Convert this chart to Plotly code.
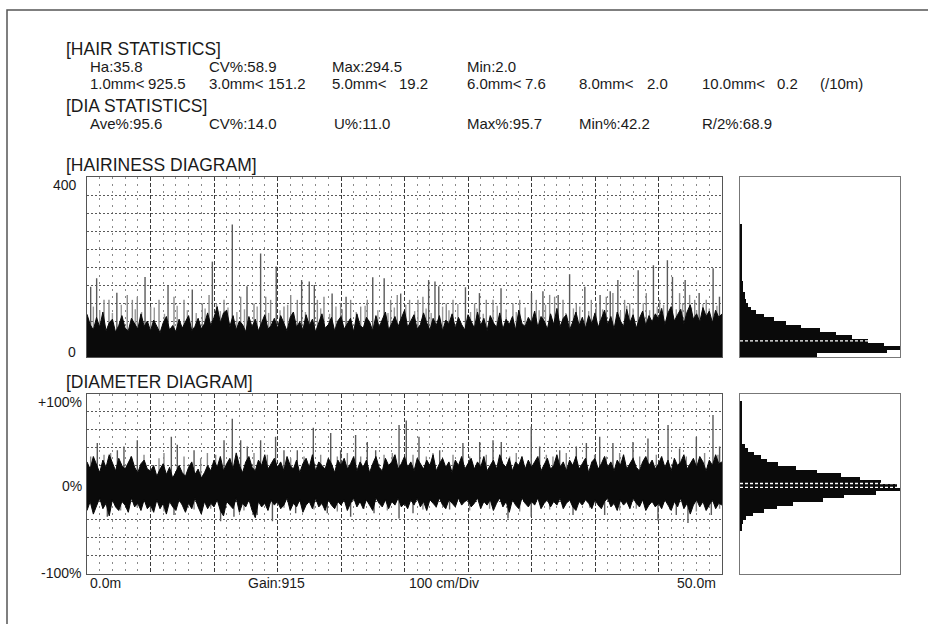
import plotly.graph_objects as go

# ---------------- data ----------------
hair_stats_row1 = [("Ha:35.8", 88), ("CV%:58.9", 207), ("Max:294.5", 330), ("Min:2.0", 465)]
hair_len_labels = ["1.0mm<", "3.0mm<", "5.0mm<", "6.0mm<", "8.0mm<", "10.0mm<"]
hair_len_values = ["925.5", "151.2", "19.2", "7.6", "2.0", "0.2"]
dia_stats = ["Ave%:95.6", "CV%:14.0", "U%:11.0", "Max%:95.7", "Min%:42.2", "R/2%:68.9"]
hair_mean = 35.8
dia_ave_pct = 95.6

# hairiness dense band top (every 0.25 m, 0..50 m)
hair_band = [95, 72, 60, 88, 66, 100, 58, 76, 84, 55, 70, 92, 64, 58, 86, 74, 62, 96, 68, 80,
             58, 82, 66, 54, 76, 90, 60, 70, 56, 84, 64, 78, 92, 58, 68, 86, 62, 74, 98, 70,
             88, 112, 76, 98, 104, 68, 92, 60, 80, 72, 56, 90, 66, 84, 58, 76, 94, 62, 70, 86,
             64, 92, 74, 58, 88, 100, 66, 78, 60, 94, 70, 84, 56, 76, 96, 64, 72, 88, 58, 80,
             90, 62, 74, 86, 56, 96, 70, 64, 88, 78, 58, 92, 66, 82, 100, 60, 76, 90, 68, 84,
             104, 66, 80, 94, 62, 72, 98, 76, 60, 86, 70, 92, 58, 82, 74, 96, 64, 88, 72, 60,
             94, 78, 64, 100, 70, 86, 58, 92, 76, 66, 98, 62, 84, 72, 90, 60, 104, 74, 68, 88,
             76, 102, 66, 90, 80, 62, 96, 72, 108, 68, 86, 94, 60, 78, 100, 70, 88, 64, 92, 74,
             98, 66, 84, 104, 72, 90, 62, 100, 80, 68, 106, 76, 94, 64, 86, 102, 70, 92, 78, 96,
             84, 108, 72, 98, 112, 80, 94, 106, 74, 100, 116, 84, 96, 78, 110, 90, 102, 76, 104, 88,
             96]
hair_band_step = 0.25

# tall hairiness spikes (position m, value)
hair_peak_pos = [0.29, 0.76, 2.35, 4.57, 6.38, 8.29, 9.87, 11.44, 12.6, 13.67, 14.9, 16.9, 17.5, 17.9,
                 19.3, 20.4, 22.5, 23.4, 24.7, 26.9, 27.4, 27.7, 29.8, 30.9, 32.6, 35.0, 35.9, 37.1,
                 38.0, 39.2, 40.4, 41.2, 41.8, 43.4, 44.6, 45.7, 46.1, 47.1, 48.2, 49.3, 49.8]
hair_peak_val = [156, 175, 143, 178, 160, 150, 212, 294.5, 157, 230, 201, 171, 168, 160,
                 141, 134, 177, 175, 141, 171, 168, 157, 155, 142, 153, 142, 146, 138,
                 184, 156, 138, 146, 171, 193, 204, 215, 178, 171, 142, 197, 134]
# medium hairiness spikes
hair_mid_pos = [1.34, 1.73, 3.17, 3.57, 3.96, 5.01, 5.67, 6.85, 7.64, 9.08, 9.61, 10.79, 12.1, 13.15,
                14.07, 14.46, 15.51, 16.04, 16.56, 18.14, 18.66, 19.97, 20.76, 21.55, 22.07, 23.91,
                24.43, 25.4, 26.06, 26.45, 28.29, 28.82, 30.52, 31.44, 31.97, 33.54, 34.07, 35.38,
                36.43, 36.82, 37.48, 38.53, 39.71, 40.89, 41.41, 42.33, 42.73, 44.04, 45.09, 46.66,
                47.45, 47.85, 48.76]
hair_mid_val = [127, 127, 138, 127, 134, 112, 127, 134, 127, 119, 138, 127, 134, 119,
                134, 127, 112, 138, 127, 127, 134, 119, 127, 112, 127, 127,
                138, 127, 127, 134, 119, 127, 119, 127, 127, 119, 127, 127,
                138, 134, 127, 119, 127, 134, 142, 127, 119, 142, 127, 142,
                138, 127, 127]
# lower strokes just above the dense band
hair_low_pos = [0.5, 1.0, 2.0, 2.7, 3.8, 4.3, 5.3, 6.1, 7.1, 7.9, 8.6, 9.3, 10.2, 10.5, 11.1, 11.8,
                12.4, 13.4, 14.3, 15.2, 15.8, 17.2, 18.4, 19.1, 19.6, 20.1, 21.2, 21.9, 22.9, 23.7,
                24.2, 25.1, 25.8, 26.7, 27.1, 28.0, 28.5, 29.2, 30.2, 30.7, 31.2, 32.3, 33.0, 33.8,
                34.5, 35.6, 36.1, 37.7, 38.3, 38.8, 39.5, 40.1, 40.6, 42.0, 42.5, 43.0, 43.8, 44.3,
                44.9, 45.4, 46.4, 46.9, 47.6, 48.0, 48.5, 49.0, 49.6]
hair_low_val = [112, 104, 98, 116, 106, 100, 110, 96, 114, 104, 98, 108, 118, 102, 110, 100,
                106, 112, 98, 104, 116, 100, 108, 96, 112, 106, 100, 114, 104, 98,
                110, 116, 102, 108, 98, 112, 104, 118, 100, 108, 96, 114, 106, 100,
                110, 104, 116, 98, 108, 112, 102, 118, 106, 100, 114, 108, 120, 104,
                112, 116, 106, 120, 110, 104, 118, 108, 114]

# diameter dense core (every 0.25 m)
dia_core_hi = [24, 16, 30, 20, 12, 26, 18, 32, 22, 14, 28, 20, 16, 24, 30, 18, 12, 22, 26, 16,
               14, 20, 8, 16, 22, 10, 18, 6, 14, 20, 12, 8, 18, 24, 10, 16, 6, 12, 20, 14,
               26, 18, 30, 14, 22, 28, 16, 34, 20, 12, 24, 30, 18, 14, 26, 20, 32, 16, 22, 28,
               18, 24, 14, 30, 20, 16, 26, 12, 22, 28, 18, 32, 14, 24, 20, 16, 28, 22, 12, 26,
               20, 28, 16, 22, 30, 14, 24, 18, 26, 12, 22, 30, 18, 14, 28, 20, 24, 32, 16, 22,
               30, 18, 24, 14, 28, 22, 16, 26, 20, 32, 14, 22, 28, 18, 24, 12, 26, 20, 30, 16,
               22, 28, 16, 24, 18, 30, 14, 20, 26, 16, 32, 22, 18, 28, 14, 24, 20, 30, 16, 26,
               18, 24, 30, 14, 22, 28, 16, 20, 32, 18, 24, 14, 26, 20, 30, 16, 22, 28, 12, 24,
               28, 16, 22, 30, 18, 24, 14, 26, 20, 32, 16, 22, 28, 18, 14, 24, 30, 20, 26, 16,
               22, 30, 18, 26, 14, 28, 20, 24, 32, 16, 22, 28, 18, 30, 24, 14, 26, 20, 32, 22,
               24]
dia_core_lo = [-30, -20, -34, -24, -16, -28, -22, -36, -18, -26, -30, -20, -24, -32, -16, -26, -22, -30, -18, -28,
               -24, -32, -18, -28, -22, -34, -20, -26, -30, -18, -24, -32, -22, -28, -16, -26, -34, -20, -28, -22,
               -26, -18, -30, -36, -20, -24, -28, -16, -32, -22, -26, -18, -30, -38, -20, -26, -22, -30, -18, -24,
               -20, -28, -24, -16, -30, -22, -26, -18, -32, -24, -20, -28, -16, -26, -22, -30, -18, -24, -28, -20,
               -24, -18, -30, -22, -16, -26, -20, -28, -18, -24, -30, -16, -22, -26, -18, -28, -20, -24, -16, -26,
               -22, -28, -18, -24, -16, -26, -20, -30, -18, -22, -26, -16, -24, -28, -18, -22, -26, -16, -24, -20,
               -18, -26, -22, -16, -28, -20, -24, -18, -30, -22, -16, -26, -20, -32, -18, -24, -28, -16, -22, -26,
               -20, -24, -16, -28, -22, -18, -26, -20, -24, -16, -28, -22, -18, -26, -30, -20, -24, -18, -22, -28,
               -18, -24, -28, -20, -16, -26, -22, -30, -18, -24, -20, -28, -16, -22, -26, -18, -30, -24, -20, -26,
               -22, -28, -18, -24, -30, -20, -26, -16, -28, -22, -34, -24, -18, -26, -20, -30, -24, -18, -28, -22,
               -24]
dia_core_step = 0.25

dia_up_pos = [0.81, 2.39, 2.91, 3.96, 6.64, 7.11, 8.43, 10.79, 11.44, 12.1, 12.62, 13.67, 14.85, 15.51, 16.56,
              17.82, 19.19, 19.97, 21.15, 22.07, 22.73, 24.57, 25.14, 26.14, 27.77, 29.6, 30.92, 31.97, 32.62,
              34.98, 35.64, 37.22, 38.53, 39.32, 40.37, 41.41, 42.99, 44.17, 45.75, 46.66, 47.98, 49.29, 49.81]
dia_up_val = [45, 37, 41, 48, 52, 43, 37, 48, 72, 48, 41, 48, 52, 37, 37,
              62, 56, 37, 54, 46, 37, 65, 70, 52, 37, 45, 46, 48, 46,
              63, 41, 37, 41, 45, 52, 45, 46, 50, 65, 39, 52, 76, 41]
dia_mid_up_pos = [0.29, 1.34, 1.86, 3.44, 4.49, 5.67, 6.06, 7.64, 8.95, 9.48, 10.13, 11.84, 13.15, 14.2, 16.04,
                  17.09, 18.4, 19.71, 20.5, 21.55, 23.39, 24.04, 25.67, 26.72, 27.24, 28.82, 30.13, 31.44,
                  33.28, 33.8, 36.17, 36.69, 37.74, 39.97, 40.89, 41.94, 43.52, 44.83, 47.19, 48.63, 49.68]
dia_mid_up_val = [30, 32, 34, 30, 32, 28, 34, 30, 28, 34, 32, 30, 34, 32, 28,
                  30, 32, 30, 34, 30, 32, 34, 32, 30, 34, 32, 30, 32,
                  30, 34, 32, 30, 34, 32, 30, 34, 30, 32, 30, 34, 32]
dia_down_pos = [1.6, 5.01, 6.85, 10.52, 11.57, 13.4, 14.6, 16.43, 18.92, 20.76, 22.6, 24.57, 25.67, 28.55,
                33.15, 34.98, 38.27, 40.76, 44.96, 46.4, 47.32, 49.16]
dia_down_val = [-37, -31, -35, -42, -37, -35, -42, -33, -33, -37, -33, -39, -33, -29,
                -39, -37, -35, -35, -41, -35, -44, -35]
dia_mid_down_pos = [0.55, 2.65, 3.96, 6.06, 8.43, 9.74, 12.36, 15.51, 17.87, 19.71, 21.81, 23.65,
                    26.45, 27.5, 30.13, 31.7, 34.07, 36.43, 39.58, 41.94, 43.25, 45.88, 47.98, 49.81]
dia_mid_down_val = [-28, -30, -27, -31, -29, -28, -30, -27, -29, -31, -28, -30,
                    -29, -27, -30, -28, -31, -29, -27, -30, -28, -29, -31, -28]

# histograms (relative bar length %)
hair_hist_center = [4, 12, 20, 28, 36, 44, 52, 60, 68, 76, 84, 92, 100, 108, 116, 124, 132, 140, 148, 156,
                    164, 172, 180, 188, 196, 204, 212, 220, 228, 236, 244, 252, 260, 268, 276, 284, 292]
hair_hist_len = [48, 92, 100, 90, 80, 70, 60, 50, 38, 29, 21, 15, 10, 7, 5, 4, 3, 3, 2, 2,
                 2, 1.5, 1.5, 1.5, 1, 1, 1, 1, 1, 1, 1, 1, 0.8, 0.8, 0.8, 0.8, 0.8]
dia_hist_center = [90, 86, 82, 78, 74, 70, 66, 62, 58, 54, 50, 46, 42, 38, 34, 30, 26, 22, 18, 14, 10, 6, 2,
                   -2, -6, -10, -14, -18, -22, -26, -30, -34, -38, -42, -46, -50]
dia_hist_len = [0.8, 0.8, 0.8, 0.8, 0.8, 0.8, 0.8, 0.8, 1, 1, 1, 1, 3, 5, 9, 13, 17, 24, 35, 48, 63, 75, 88,
                98, 100, 85, 65, 52, 33, 23, 15, 8, 4, 2, 1, 0.8]

# ---------------- layout helpers ----------------
W, H = 928, 624
def px(x): return x / W
def py(y): return 1 - y / H

FONT = "Liberation Sans, Arial, sans-serif"
TXT = "#1a1a1a"

fig = go.Figure()

def spikes(pos, val, base=0):
    xs, ys = [], []
    for p, v in zip(pos, val):
        xs += [p, p, None]
        ys += [base, v, None]
    return xs, ys

# hairiness
for pos, val, col in [(hair_low_pos, hair_low_val, "#9a9a9a"),
                      (hair_mid_pos, hair_mid_val, "#8a8a8a"),
                      (hair_peak_pos, hair_peak_val, "#5a5a5a")]:
    xs, ys = spikes(pos, val)
    fig.add_trace(go.Scatter(x=xs, y=ys, mode="lines", line=dict(color=col, width=1.4),
                             xaxis="x", yaxis="y", hoverinfo="skip"))
band_x = [i * hair_band_step for i in range(len(hair_band))]
fig.add_trace(go.Scatter(x=band_x, y=hair_band, mode="lines", fill="tozeroy",
                         fillcolor="#0a0a0a", line=dict(color="#0a0a0a", width=1),
                         xaxis="x", yaxis="y", hoverinfo="skip"))

# diameter
for pos, val, col in [(dia_mid_up_pos, dia_mid_up_val, "#8a8a8a"),
                      (dia_mid_down_pos, dia_mid_down_val, "#8a8a8a"),
                      (dia_up_pos, dia_up_val, "#5a5a5a"),
                      (dia_down_pos, dia_down_val, "#5a5a5a")]:
    xs, ys = spikes(pos, val)
    fig.add_trace(go.Scatter(x=xs, y=ys, mode="lines", line=dict(color=col, width=1.4),
                             xaxis="x2", yaxis="y2", hoverinfo="skip"))
core_x = [i * dia_core_step for i in range(len(dia_core_hi))]
fig.add_trace(go.Scatter(x=core_x, y=dia_core_lo, mode="lines", line=dict(color="#0a0a0a", width=1),
                         xaxis="x2", yaxis="y2", hoverinfo="skip"))
fig.add_trace(go.Scatter(x=core_x, y=dia_core_hi, mode="lines", fill="tonexty", fillcolor="#0a0a0a",
                         line=dict(color="#0a0a0a", width=1), xaxis="x2", yaxis="y2", hoverinfo="skip"))

# histograms
fig.add_trace(go.Bar(x=hair_hist_len, y=hair_hist_center, orientation="h", width=8,
                     marker=dict(color="#0a0a0a", line=dict(width=0)), xaxis="x3", yaxis="y3", hoverinfo="skip"))
fig.add_trace(go.Bar(x=dia_hist_len, y=dia_hist_center, orientation="h", width=4,
                     marker=dict(color="#0a0a0a", line=dict(width=0)), xaxis="x4", yaxis="y4", hoverinfo="skip"))

GRID_H = dict(showgrid=True, gridcolor="#5a5a5a", griddash="2px,2px", gridwidth=1)
def main_x(anchor):
    return dict(domain=[px(87), px(722)], range=[0, 50], anchor=anchor, tick0=0, dtick=5,
                showgrid=True, gridcolor="#3a3a3a", griddash="4px,2px", gridwidth=1,
                minor=dict(dtick=1, tick0=0, showgrid=True, gridcolor="#8a8a8a", griddash="2px,5px", gridwidth=1),
                showticklabels=False, ticks="", zeroline=False,
                showline=True, mirror=True, linecolor="#555", linewidth=1, fixedrange=True)

def hist_x(anchor):
    return dict(domain=[px(740), px(900)], range=[0, 100], anchor=anchor, showgrid=False,
                showticklabels=False, ticks="", zeroline=False,
                showline=True, mirror=True, linecolor="#777", linewidth=1)

fig.update_layout(
    width=W, height=H, margin=dict(l=0, r=0, t=0, b=0),
    paper_bgcolor="white", plot_bgcolor="white", showlegend=False, bargap=0,
    xaxis=main_x("y"),
    yaxis=dict(domain=[py(357), py(177)], range=[0, 400], anchor="x", tick0=0, dtick=40,
               showticklabels=False, ticks="", zeroline=False, showline=True, mirror=True,
               linecolor="#555", linewidth=1, **GRID_H),
    xaxis2=main_x("y2"),
    yaxis2=dict(domain=[py(573.5), py(393.5)], range=[-100, 100], anchor="x2", tick0=0, dtick=20,
                showticklabels=False, ticks="", zeroline=False, showline=True, mirror=True,
                linecolor="#555", linewidth=1, **GRID_H),
    xaxis3=hist_x("y3"),
    yaxis3=dict(domain=[py(357), py(177)], range=[0, 400], anchor="x3", showgrid=False,
                showticklabels=False, ticks="", zeroline=False, showline=True, mirror=True,
                linecolor="#777", linewidth=1),
    xaxis4=hist_x("y4"),
    yaxis4=dict(domain=[py(573.5), py(393.5)], range=[-100, 100], anchor="x4", showgrid=False,
                showticklabels=False, ticks="", zeroline=False, showline=True, mirror=True,
                linecolor="#777", linewidth=1),
)

# mean dashed lines in histograms
fig.add_shape(type="line", xref="x3", yref="y3", x0=0, x1=100, y0=hair_mean, y1=hair_mean,
              line=dict(color="white", width=1.3, dash="3px,2px"))
for v in [0, dia_ave_pct - 100]:
    fig.add_shape(type="line", xref="x4", yref="y4", x0=0, x1=100, y0=v, y1=v,
                  line=dict(color="white", width=1.3, dash="3px,2px"))

# outer frame
fig.add_shape(type="rect", xref="paper", yref="paper", x0=px(7), x1=px(940), y0=py(640), y1=py(10),
              line=dict(color="#555", width=1.5), layer="below")

def txt(s, x, y, size=15, anchor="left"):
    fig.add_annotation(text=s, x=px(x), y=py(y), xref="paper", yref="paper", showarrow=False,
                       xanchor=anchor, yanchor="middle", font=dict(family=FONT, size=size, color=TXT))

HEAD = 17.5
txt("[HAIR STATISTICS]", 64, 49, HEAD)
for s, x in hair_stats_row1:
    txt(s, x, 67)
lab_x = [88, 207, 330, 465, 577, 700]
val_r = [188, 308, 430, 548, 670, 800]
for s, x in zip(hair_len_labels, lab_x):
    txt(s, x, 84)
for s, x in zip(hair_len_values, val_r):
    txt(s, x, 84, anchor="right")
txt("(/10m)", 818, 84)
txt("[DIA STATISTICS]", 64, 106, HEAD)
for s, x in zip(dia_stats, [88, 207, 332, 465, 577, 700]):
    txt(s, x, 124)
txt("[HAIRINESS DIAGRAM]", 64, 165, HEAD)
txt("[DIAMETER DIAGRAM]", 64, 382, HEAD)
txt("400", 79, 185, 14, "right")
txt("0", 78, 352, 14, "right")
txt("+100%", 84, 402, 14, "right")
txt("0%", 84, 486, 14, "right")
txt("-100%", 83, 573, 14, "right")
txt("0.0m", 88, 583, 14)
txt("Gain:915", 246, 583, 14)
txt("100 cm/Div", 407, 583, 14)
txt("50.0m", 718, 583, 14, "right")

fig.write_html("out.html", config={"displayModeBar": False},
               post_script="document.body.style.margin='0px';")
